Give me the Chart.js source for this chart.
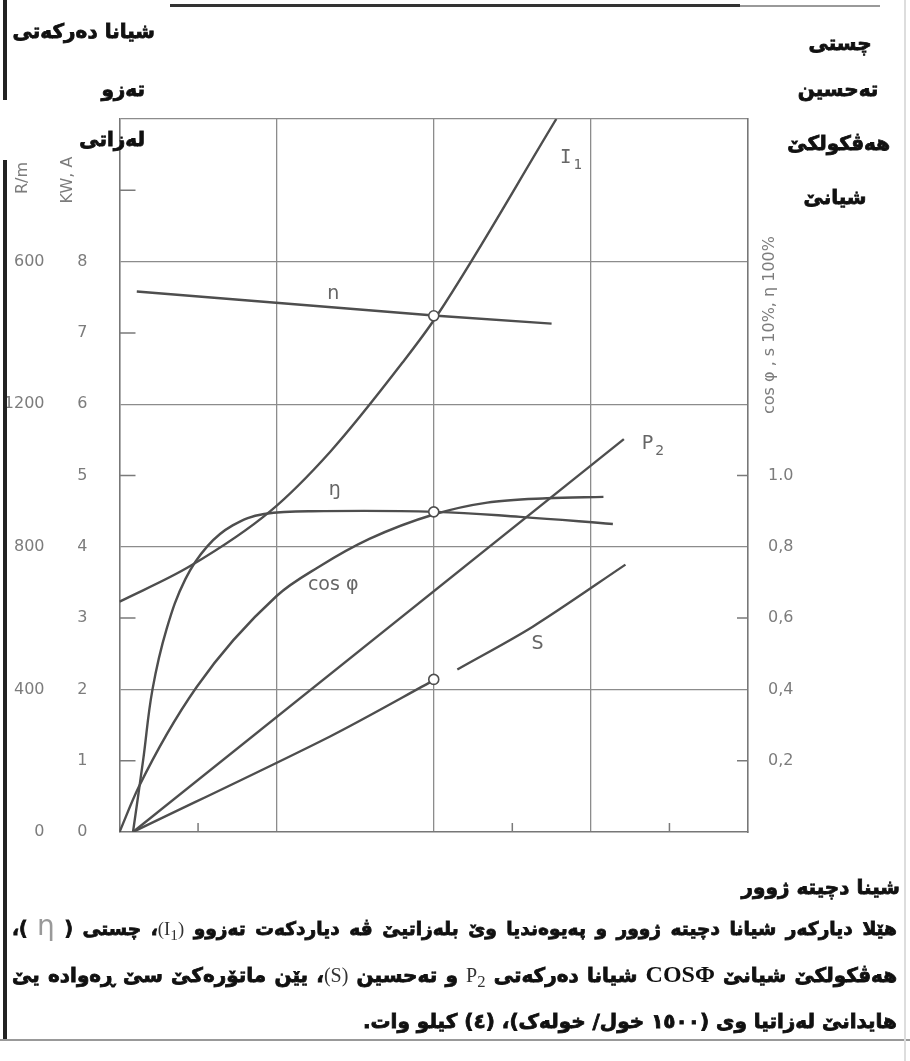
<!DOCTYPE html>
<html>
<head>
<meta charset="utf-8">
<script src="https://cdn.jsdelivr.net/npm/chart.js@4.4.1/dist/chart.umd.min.js"></script>
<style>
  html, body { margin: 0; padding: 0; background: #fff; }
  #page { position: relative; width: 910px; height: 1061px; overflow: hidden; background: #fff; }
  #chartBox { position: absolute; left: 0; top: 0; width: 910px; height: 1061px; }
  .ku { position: absolute; font-family: "DejaVu Sans", sans-serif; font-weight: bold; direction: rtl;
        color: #111; white-space: nowrap; line-height: 28px; -webkit-text-stroke: 0.8px #111; }
  .head { font-size: 20px; }
  .line { font-size: 20px; width: 885px; right: 13px; text-align: justify; text-align-last: justify; }
  .first { font-size: 18.6px; }
  .last { text-align: right; text-align-last: right; }
  .lat { font-family: "Liberation Serif", serif; font-weight: normal; color: #333; -webkit-text-stroke: 0; }
  .phi { font-family: "Liberation Serif", serif; font-weight: bold; font-size: 24px; -webkit-text-stroke: 0; }
  .eta { font-family: "DejaVu Sans", sans-serif; font-weight: normal; font-size: 28px; color: #999; -webkit-text-stroke: 0; }
  .rule { position: absolute; }
</style>
</head>
<body>
<div id="page">
  <div id="chartBox"><canvas id="motorChart" width="910" height="1061"></canvas></div>

  <!-- scan frame -->
  <div class="rule" style="left:3px; top:0; width:4px; height:100px; background:#222;"></div>
  <div class="rule" style="left:3px; top:160px; width:4px; height:880px; background:#222;"></div>
  <div class="rule" style="left:170px; top:4px; width:570px; height:3px; background:#333;"></div>
  <div class="rule" style="left:740px; top:5px; width:140px; height:2px; background:#999;"></div>
  <div class="rule" style="left:0; top:1039px; width:910px; height:2px; background:#999;"></div>
  <div class="rule" style="left:904px; top:0; width:2px; height:1061px; background:#ddd;"></div>

  <div class="ku head" style="right:755px; top:17px;">شیانا دەرکەتی</div>
  <div class="ku head" style="right:765px; top:75px;">تەزو</div>
  <div class="ku head" style="right:765px; top:125px;">لەزاتی</div>

  <div class="ku head" style="left:790px; width:100px; text-align:center; top:29px;">چستی</div>
  <div class="ku head" style="left:788px; width:100px; text-align:center; top:75px;">تەحسین</div>
  <div class="ku head" style="left:790px; width:100px; text-align:center; top:129px;">هەڤکولکێ</div>
  <div class="ku head" style="left:785px; width:100px; text-align:center; top:183px;">شیانێ</div>

  <div class="ku head" style="right:10px; top:873px;">شینا دچیتە ژوور</div>
  <div class="ku line first" style="top:912px;">هێلا دیارکەر شیانا دچیتە ژوور و پەیوەندیا وێ بلەزاتیێ ڤە دیاردکەت تەزوو <span class="lat">(I<sub>1</sub>)</span>، چستی ( <span class="eta">η</span> )،</div>
  <div class="ku line" style="top:960px;">هەڤکولکێ شیانێ <span class="phi">COSΦ</span> شیانا دەرکەتی <span class="lat">P<sub>2</sub></span> و تەحسین <span class="lat">(S)</span>، یێن ماتۆرەکێ سێ ڕەوادە یێ</div>
  <div class="ku line last" style="top:1007px;">هایدانێ لەزاتیا وی (١٥٠٠ خول/ خولەک)، (٤) کیلو وات.</div>
</div>

<script>
// curves (x: load, y: kW / A scale 0..10)
const i1X = [0, 0.45, 0.96, 1.34, 1.80, 2.02, 2.78];
const i1Y = [3.23, 3.73, 4.50, 5.33, 6.58, 7.24, 10.0];

const nX = [0.11, 2.02, 2.75];
const nY = [7.58, 7.24, 7.13];

const etaX = [0.086, 0.15, 0.21, 0.30, 0.42, 0.56, 0.72, 0.92, 1.30, 2.01, 2.55, 3.14];
const etaY = [0, 1.0, 2.0, 2.85, 3.55, 4.01, 4.30, 4.46, 4.50, 4.49, 4.42, 4.32];

const cosX = [0, 0.12, 0.49, 1.00, 1.27, 1.59, 2.01, 2.34, 2.72, 3.08];
const cosY = [0, 0.62, 2.03, 3.31, 3.72, 4.11, 4.46, 4.62, 4.68, 4.70];

const p2X = [0.086, 3.21];
const p2Y = [0, 5.51];

const sX = [0.086, 1.34, 2.01, 2.08, 2.15, 2.63, 3.22];
const sY = [0, 1.34, 2.14, null, 2.28, 2.88, 3.75];

const markX = [2.0, 2.0, 2.0];
const markY = [7.24, 4.49, 2.14];

// tick labels
const kwTicks = ['0', '1', '2', '3', '4', '5', '6', '7', '8'];
const rpmTicks = ['0', '400', '800', '1200', '600'];
const cosTicks = ['0,2', '0,4', '0,6', '0,8', '1.0'];
const leftMinor = [1, 3, 5, 7, 9];
const rightMinor = [1, 3, 5];
const bottomMinor = [0.5, 2.5, 3.5];

const curveLabels = [
    { text: 'I', sub: '1', x: 2.84, y: 9.45, mono: true },
    { text: 'n', x: 1.36, y: 7.55 },
    { text: 'ŋ', x: 1.37, y: 4.80 },
    { text: 'cos φ', x: 1.36, y: 3.46 },
    { text: 'P', sub: '2', x: 3.36, y: 5.44 },
    { text: 'S', x: 2.66, y: 2.63 }
];

const ink = '#4e4e4e';
const gridInk = '#8c8c8c';
const labelInk = '#7c7c7c';

function pts(xs, ys) {
    return xs.map((x, i) => ({ x: x, y: ys[i] }));
}

function curve(label, xs, ys, tension, mono) {
    return {
        label: label,
        data: pts(xs, ys),
        borderColor: ink,
        borderWidth: 2.4,
        pointRadius: 0,
        fill: false,
        tension: tension,
        cubicInterpolationMode: mono ? 'monotone' : 'default'
    };
}

const extras = {
    id: 'extras',
    afterDraw(chart) {
        const ctx = chart.ctx;
        const xs = chart.scales.x, ys = chart.scales.y;
        const a = chart.chartArea;
        ctx.save();

        // short inner ticks
        ctx.strokeStyle = '#7a7a7a';
        ctx.lineWidth = 1.5;
        ctx.beginPath();
        leftMinor.forEach(v => {
            const py = ys.getPixelForValue(v);
            ctx.moveTo(a.left, py); ctx.lineTo(a.left + 16, py);
        });
        rightMinor.forEach(v => {
            const py = ys.getPixelForValue(v);
            ctx.moveTo(a.right - 11, py); ctx.lineTo(a.right, py);
        });
        bottomMinor.forEach(v => {
            const px = xs.getPixelForValue(v);
            ctx.moveTo(px, a.bottom); ctx.lineTo(px, a.bottom - 9);
        });
        ctx.stroke();

        // curve names
        ctx.fillStyle = '#666';
        ctx.textBaseline = 'middle';
        curveLabels.forEach(l => {
            const px = xs.getPixelForValue(l.x), py = ys.getPixelForValue(l.y);
            const fam = l.mono ? '"DejaVu Sans Mono"' : '"DejaVu Sans"';
            ctx.font = '19px ' + fam;
            const w = ctx.measureText(l.text).width;
            ctx.textAlign = 'left';
            ctx.fillText(l.text, px - w / 2, py);
            if (l.sub) {
                ctx.font = '14px ' + fam;
                ctx.fillText(l.sub, px + w / 2 + 2, py + 7);
            }
        });

        // rotated axis titles
        ctx.fillStyle = labelInk;
        ctx.font = '16px "DejaVu Sans"';
        ctx.textAlign = 'center';
        const yR = chart.scales.yR, y2 = chart.scales.y2;
        [['R/m', yR.left + 17, 178], ['KW, A', ys.left + 12, 180], ['cos φ , s 10%, η 100%', y2.left + 22, 325]]
            .forEach(t => {
                ctx.save();
                ctx.translate(t[1], t[2]);
                ctx.rotate(-Math.PI / 2);
                ctx.fillText(t[0], 0, 0);
                ctx.restore();
            });
        ctx.restore();
    }
};

new Chart(document.getElementById('motorChart'), {
    type: 'line',
    data: {
        datasets: [
            {
                label: 'points',
                data: pts(markX, markY),
                showLine: false,
                pointRadius: 5,
                pointBackgroundColor: '#fff',
                pointBorderColor: ink,
                pointBorderWidth: 1.6
            },
            curve('I1', i1X, i1Y, 0.4, true),
            curve('n', nX, nY, 0, false),
            curve('η', etaX, etaY, 0.4, false),
            curve('cos φ', cosX, cosY, 0.4, true),
            curve('P2', p2X, p2Y, 0, false),
            curve('S', sX, sY, 0.3, false)
        ]
    },
    options: {
        responsive: false,
        animation: false,
        events: [],
        layout: { padding: { left: 5.5, right: 102, top: 119, bottom: 229 } },
        plugins: { legend: { display: false }, tooltip: { enabled: false } },
        scales: {
            x: {
                type: 'linear', min: 0, max: 4,
                ticks: { stepSize: 1, display: false },
                grid: {
                    drawTicks: false, lineWidth: 1.3,
                    color: c => (c.tick && c.tick.value > 0 && c.tick.value < 4) ? gridInk : 'rgba(0,0,0,0)'
                },
                border: { color: '#777', width: 1.6 },
                afterFit(s) { s.height = 0; }
            },
            y: {
                position: 'left', weight: 0, min: 0, max: 10,
                ticks: {
                    stepSize: 1, padding: 32, color: labelInk,
                    font: { family: 'DejaVu Sans', size: 16 },
                    callback: v => kwTicks[v] !== undefined ? kwTicks[v] : ''
                },
                grid: {
                    drawTicks: false, lineWidth: 1.3,
                    color: c => (c.tick && [2, 4, 6, 8, 10].includes(c.tick.value)) ? gridInk : 'rgba(0,0,0,0)'
                },
                border: { color: '#777', width: 1.6 },
                afterFit(s) { s.width = 64; }
            },
            yR: {
                position: 'left', weight: 1, min: 0, max: 10,
                ticks: {
                    stepSize: 2, padding: 3, color: labelInk,
                    font: { family: 'DejaVu Sans', size: 16 },
                    callback: v => rpmTicks[v / 2] !== undefined ? rpmTicks[v / 2] : ''
                },
                grid: { display: false },
                border: { display: false },
                afterFit(s) { s.width = 50; }
            },
            y2: {
                position: 'right', min: 0, max: 10,
                afterBuildTicks(s) { s.ticks = cosTicks.map((t, i) => ({ value: i + 1 })); },
                ticks: {
                    padding: 20, color: labelInk,
                    font: { family: 'DejaVu Sans', size: 16 },
                    callback: (v, i) => cosTicks[i]
                },
                grid: { drawOnChartArea: false, drawTicks: false },
                border: { color: '#777', width: 1.6 },
                afterFit(s) { s.width = 60; }
            }
        }
    },
    plugins: [extras]
});
</script>
</body>
</html>
